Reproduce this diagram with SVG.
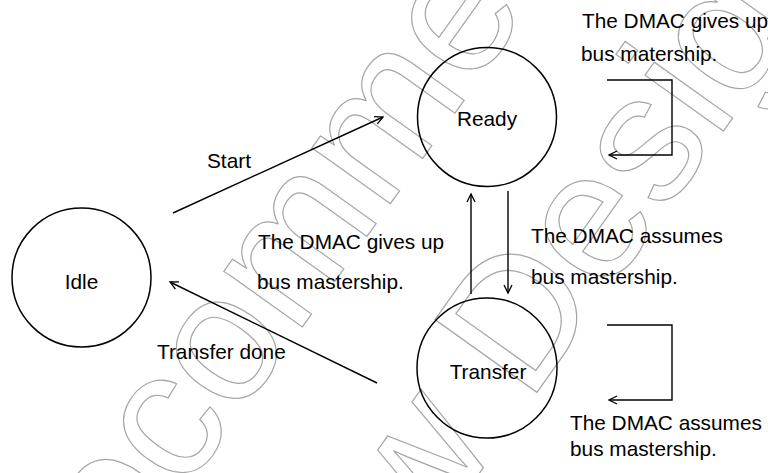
<svg xmlns="http://www.w3.org/2000/svg" width="768" height="473" viewBox="0 0 768 473">
<style>
  .wm { font-family: "Liberation Sans", Arial, sans-serif; font-size: 182px; fill: none; stroke: #a6a6a6; stroke-width: 1.2; text-anchor: middle; }
  .node { fill: none; stroke: #000; stroke-width: 1.5; }
  .lbl { font-family: "Liberation Sans", Arial, sans-serif; font-size: 20.8px; fill: #000; }
  .mid { text-anchor: middle; }
  .edge { fill: none; stroke: #000; stroke-width: 1.4; marker-end: url(#arr); }
</style>
<defs>
  <marker id="arr" viewBox="-10 -5 12 10" refX="0" refY="0" markerWidth="12" markerHeight="10" markerUnits="userSpaceOnUse" orient="auto">
    <path d="M-8,-4 L0,0 L-8,4" fill="none" stroke="#000" stroke-width="1.3"/>
  </marker>
</defs>
<rect width="768" height="473" fill="#fff"/>
<g id="watermark" transform="rotate(-54.5)">
  <text class="wm" x="-78" y="436">Not Recommended</text>
  <text class="wm" x="-78" y="665">for New Design</text>
</g>
<g id="connectors">
  <line class="edge" x1="173" y1="213" x2="383" y2="117"/>
  <line class="edge" x1="377" y1="383" x2="170" y2="282"/>
  <line class="edge" x1="471" y1="294" x2="471" y2="194"/>
  <line class="edge" x1="508" y1="191" x2="508" y2="293"/>
  <path class="edge" d="M607,80 H672 V155 H609"/>
  <path class="edge" d="M607,325 H672 V400 H609"/>
</g>
<g id="idle">
  <circle class="node" cx="81.5" cy="277.5" r="69.5"/>
  <text class="lbl mid" x="81.5" y="289">Idle</text>
</g>
<g id="ready">
  <circle class="node" cx="487" cy="117" r="69.5"/>
  <text class="lbl mid" x="487" y="126">Ready</text>
</g>
<g id="transfer">
  <circle class="node" cx="487" cy="368" r="70"/>
  <text class="lbl mid" x="488" y="379">Transfer</text>
</g>
<g id="labels">
  <text class="lbl" x="207" y="168">Start</text>
  <text class="lbl" x="157" y="359">Transfer done</text>
  <text class="lbl" x="258" y="249">The DMAC gives up</text>
  <text class="lbl" x="257" y="289">bus mastership.</text>
  <text class="lbl" x="531" y="243">The DMAC assumes</text>
  <text class="lbl" x="531" y="284">bus mastership.</text>
  <text class="lbl" x="582" y="28">The DMAC gives up</text>
  <text class="lbl" x="581" y="61">bus matership.</text>
  <text class="lbl" x="570" y="430">The DMAC assumes</text>
  <text class="lbl" x="570" y="456">bus mastership.</text>
</g>
</svg>
